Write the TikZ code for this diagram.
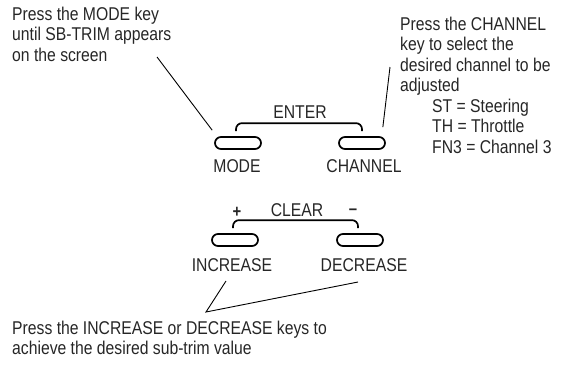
\documentclass[tikz,border=0pt]{standalone}
\usepackage{fontspec}
\setmainfont[FakeStretch=0.85]{Liberation Sans}
\begin{document}
\begin{tikzpicture}[x=1pt,y=-1pt,
  txt/.style={inner sep=0pt,font=\fontsize{18.5}{20.5}\selectfont,align=left,text=black!85,anchor=north west},
  lbl/.style={inner sep=0pt,font=\fontsize{18.5}{20.5}\selectfont,text=black!85},
  keybtn/.style={draw,line width=1.7pt,minimum width=46pt,minimum height=12pt,rounded corners=6pt,inner sep=0pt},
  brk/.style={line width=1.7pt,rounded corners=6pt},
  ptr/.style={line width=0.9pt}]
\useasboundingbox (0,0) rectangle (562,365);
% texts
\node[txt] (t1) at (12,6.5) {Press the MODE key\\until SB-TRIM appears\\on the screen};
\node[txt] (t2) at (400,16.5) {Press the CHANNEL\\key to select the\\desired channel to be\\adjusted\\\hspace*{32pt}ST = Steering\\\hspace*{32pt}TH = Throttle\\\hspace*{32pt}FN3 = Channel 3};
\node[txt] (t3) at (12,320.5) {Press the INCREASE or DECREASE keys to\\achieve the desired sub-trim value};
% buttons
\node[keybtn] (mode) at (238,143) {};
\node[keybtn] (chan) at (362,143) {};
\node[keybtn] (inc) at (235,240) {};
\node[keybtn] (dec) at (360,240) {};
\node[lbl,anchor=base] (lmode) at (237,172) {MODE};
\node[lbl,anchor=base] (lchan) at (364,172) {CHANNEL};
\node[lbl,anchor=base] (linc) at (232,271) {INCREASE};
\node[lbl,anchor=base] (ldec) at (364,271) {DECREASE};
\node[lbl,anchor=base] (enter) at (300,118) {ENTER};
\node[lbl,anchor=base] (clear) at (297,216) {CLEAR};
\node[lbl,font=\fontsize{17.5}{20.5}\selectfont\bfseries] (plus) at (237,212) {+};
\node[lbl,font=\fontsize{17.5}{20.5}\selectfont\bfseries] (minus) at (353,212) {\char"2013};
% brackets
\draw[brk] ([xshift=-2pt,yshift=5pt]mode.north) -- ++(0,-8) -| ([yshift=5pt]chan.north);
\draw[brk] ([xshift=-2pt,yshift=5pt]inc.north) -- ++(0,-8) -| ([xshift=-2pt,yshift=5pt]dec.north);
% pointers
\coordinate (p1) at (157,57);
\coordinate (p2) at (390,67);
\coordinate (p3) at (226,281);
\coordinate (p4) at (206,312);
\coordinate (p5) at (358,282);
\draw[ptr] (p1) -- ([xshift=-2pt,yshift=6pt]mode.north west);
\draw[ptr] (p2) -- ([xshift=-3pt,yshift=9pt]chan.north east);
\draw[ptr] (p3) -- (p4) -- (p5);
\end{tikzpicture}
\end{document}
